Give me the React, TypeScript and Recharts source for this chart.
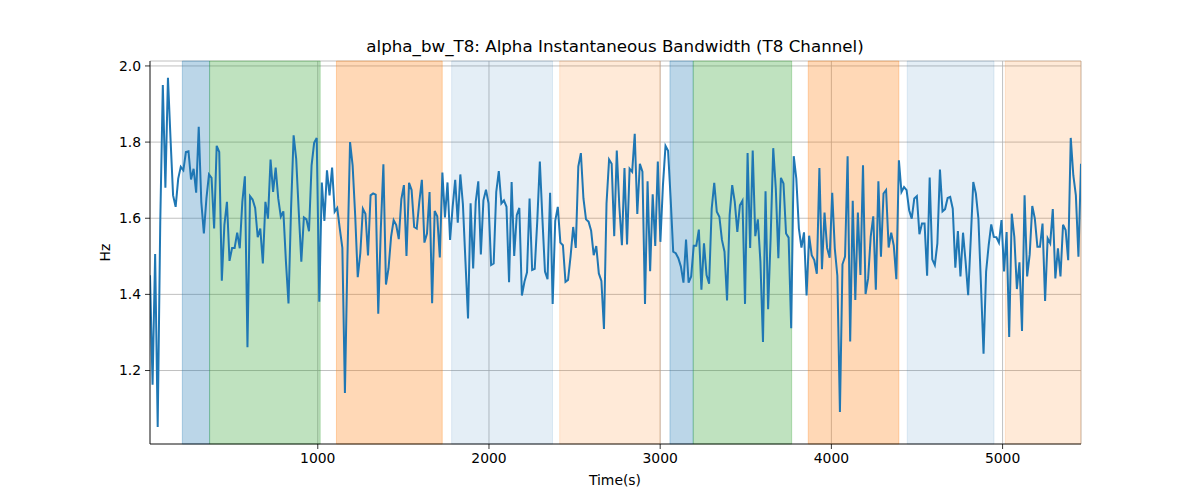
import React from 'react';
import { LineChart, Line, XAxis, YAxis, CartesianGrid, ReferenceArea } from 'recharts';

// page has an 8px default margin; drop it so the chart sits at 0,0
document.body.style.margin = '0';

// recording window (s)
const T_START = 20;
const T_END = 5458;

// alpha instantaneous bandwidth, T8 channel (Hz), evenly sampled over the window
const BANDWIDTH_HZ = [
  1.45, 1.163, 1.506, 1.052, 1.591, 1.95, 1.68, 1.969, 1.809, 1.66, 1.63, 1.704, 1.735, 1.726, 1.774, 1.776,
  1.702, 1.73, 1.667, 1.84, 1.643, 1.56, 1.652, 1.715, 1.706, 1.573, 1.79, 1.774, 1.436, 1.582, 1.643, 1.488,
  1.522, 1.522, 1.562, 1.521, 1.643, 1.71, 1.261, 1.658, 1.649, 1.627, 1.55, 1.573, 1.481, 1.643, 1.599, 1.754,
  1.669, 1.733, 1.652, 1.604, 1.618, 1.486, 1.376, 1.625, 1.818, 1.756, 1.617, 1.486, 1.602, 1.597, 1.566,
  1.739, 1.798, 1.811, 1.381, 1.694, 1.593, 1.726, 1.66, 1.733, 1.617, 1.627, 1.573, 1.522, 1.141, 1.503, 1.8,
  1.739, 1.608, 1.445, 1.508, 1.625, 1.612, 1.502, 1.66, 1.665, 1.662, 1.349, 1.573, 1.742, 1.426, 1.468, 1.551,
  1.595, 1.582, 1.545, 1.65, 1.687, 1.501, 1.693, 1.674, 1.577, 1.573, 1.643, 1.701, 1.536, 1.56, 1.669, 1.377,
  1.619, 1.605, 1.497, 1.72, 1.602, 1.694, 1.543, 1.63, 1.701, 1.588, 1.715, 1.637, 1.486, 1.337, 1.639,
  1.468, 1.643, 1.697, 1.505, 1.647, 1.675, 1.639, 1.477, 1.481, 1.669, 1.724, 1.639, 1.647, 1.63, 1.432, 1.695,
  1.501, 1.608, 1.627, 1.397, 1.433, 1.458, 1.652, 1.464, 1.467, 1.593, 1.749, 1.599, 1.46, 1.44, 1.667, 1.375,
  1.593, 1.63, 1.536, 1.529, 1.433, 1.438, 1.501, 1.577, 1.522, 1.736, 1.771, 1.652, 1.597, 1.591, 1.567, 1.503,
  1.527, 1.455, 1.435, 1.309, 1.639, 1.754, 1.743, 1.553, 1.778, 1.63, 1.529, 1.732, 1.531, 1.73,
  1.722, 1.822, 1.611, 1.743, 1.722, 1.375, 1.697, 1.461, 1.663, 1.527, 1.749, 1.538, 1.687, 1.79, 1.777, 1.652,
  1.512, 1.508, 1.495, 1.473, 1.431, 1.544, 1.431, 1.447, 1.528, 1.528, 1.57, 1.412, 1.534, 1.451, 1.428, 1.625,
  1.693, 1.617, 1.604, 1.543, 1.512, 1.384, 1.608, 1.687, 1.643, 1.564, 1.634, 1.646, 1.375, 1.771, 1.522, 1.778,
  1.553, 1.597, 1.486, 1.275, 1.671, 1.361, 1.55, 1.784, 1.678, 1.495, 1.706, 1.691, 1.56, 1.549, 1.311,
  1.763, 1.704, 1.573, 1.523, 1.563, 1.397, 1.554, 1.503, 1.49, 1.454, 1.732, 1.466, 1.615, 1.522, 1.496, 1.667,
  1.521, 1.449, 1.091, 1.479, 1.499, 1.763, 1.276, 1.646, 1.385, 1.615, 1.451, 1.739, 1.401, 1.442, 1.551, 1.605,
  1.412, 1.697, 1.499, 1.665, 1.674, 1.523, 1.562, 1.528, 1.44, 1.752, 1.669, 1.682, 1.674, 1.621, 1.599, 1.652,
  1.658, 1.558, 1.586, 1.586, 1.449, 1.707, 1.492, 1.477, 1.534, 1.728, 1.618, 1.624, 1.653, 1.656,
  1.625, 1.47, 1.566, 1.447, 1.562, 1.486, 1.398, 1.543, 1.695, 1.665, 1.599, 1.424, 1.244, 1.46, 1.529, 1.584,
  1.551, 1.55, 1.536, 1.595, 1.46, 1.564, 1.288, 1.612, 1.551, 1.414, 1.484, 1.304, 1.66, 1.447, 1.505, 1.632,
  1.599, 1.525, 1.525, 1.586, 1.383, 1.547, 1.534, 1.624, 1.442, 1.521, 1.447, 1.583, 1.569, 1.49, 1.811, 1.713,
  1.66, 1.499, 1.743,
];

// shaded task blocks
const SPAN_START = [209, 368, 1109, 1782, 2413, 3057, 3193, 3865, 4443, 5016];
const SPAN_END = [368, 1014, 1727, 2371, 3000, 3193, 3768, 4394, 4950, 5458];
const SPAN_COLOR = ['#1f77b4', '#2ca02c', '#ff7f0e', '#1f77b4', '#ff7f0e', '#1f77b4', '#2ca02c', '#ff7f0e', '#1f77b4', '#ff7f0e'];
const SPAN_ALPHA = [0.3, 0.3, 0.3, 0.12, 0.16, 0.3, 0.3, 0.3, 0.12, 0.16];

const X_TICKS = [1000, 2000, 3000, 4000, 5000];
const Y_TICKS = [1.2, 1.4, 1.6, 1.8, 2.0];
const Y_DOMAIN: [number, number] = [1.007, 2.013];

const step = (T_END - T_START) / (BANDWIDTH_HZ.length - 1);
const data = BANDWIDTH_HZ.map((hz, i) => ({ t: T_START + i * step, hz }));

const FONT = '"DejaVu Sans", sans-serif';
const tickStyle = { fontSize: 13.9, fill: '#000', fontFamily: FONT };

export default function App() {
  return (
    <div style={{ position: 'relative', width: 1200, height: 500, background: '#fff' }}>
      <LineChart width={1200} height={500} data={data} margin={{ top: 61, right: 119, bottom: 0, left: 0 }}>
        <CartesianGrid stroke="#b0b0b0" strokeWidth={0.8} />
        <XAxis
          dataKey="t"
          type="number"
          domain={[T_START, T_END]}
          ticks={X_TICKS}
          allowDataOverflow
          height={56}
          tick={tickStyle}
          tickSize={5}
          tickMargin={4}
          stroke="#000"
          tickLine={{ stroke: '#000', strokeWidth: 0.8 }}
          axisLine={{ stroke: '#000', strokeWidth: 0.8 }}
        />
        <XAxis
          xAxisId="top"
          orientation="top"
          type="number"
          domain={[T_START, T_END]}
          height={0}
          tick={false}
          tickLine={false}
          axisLine={{ stroke: '#000', strokeWidth: 0.8 }}
        />
        <YAxis
          type="number"
          domain={Y_DOMAIN}
          ticks={Y_TICKS}
          allowDataOverflow
          width={150}
          tick={tickStyle}
          tickFormatter={(v) => Number(v).toFixed(1)}
          tickSize={5}
          tickMargin={4}
          stroke="#000"
          tickLine={{ stroke: '#000', strokeWidth: 0.8 }}
          axisLine={{ stroke: '#000', strokeWidth: 0.8 }}
        />
        <YAxis
          yAxisId="right"
          orientation="right"
          type="number"
          domain={Y_DOMAIN}
          width={0}
          tick={false}
          tickLine={false}
          axisLine={{ stroke: '#000', strokeWidth: 0.8 }}
        />
        {SPAN_START.map((x1, i) => (
          <ReferenceArea
            key={i}
            x1={x1}
            x2={SPAN_END[i]}
            fill={SPAN_COLOR[i]}
            fillOpacity={SPAN_ALPHA[i]}
            stroke={SPAN_COLOR[i]}
            strokeOpacity={SPAN_ALPHA[i]}
            strokeWidth={1}
          />
        ))}
        <Line
          type="linear"
          dataKey="hz"
          stroke="#1f77b4"
          strokeWidth={2}
          dot={false}
          activeDot={false}
          isAnimationActive={false}
        />
      </LineChart>
      <svg width={1200} height={500} style={{ position: 'absolute', left: 0, top: 0, pointerEvents: 'none' }}>
        <text x={615} y={52} textAnchor="middle" fontFamily={FONT} fontSize={16.7} fill="#000">
          alpha_bw_T8: Alpha Instantaneous Bandwidth (T8 Channel)
        </text>
        <text x={615} y={485} textAnchor="middle" fontFamily={FONT} fontSize={13.9} fill="#000">
          Time(s)
        </text>
        <text
          x={110}
          y={252.5}
          textAnchor="middle"
          transform="rotate(-90 110 252.5)"
          fontFamily={FONT}
          fontSize={13.9}
          fill="#000"
        >
          Hz
        </text>
      </svg>
    </div>
  );
}
